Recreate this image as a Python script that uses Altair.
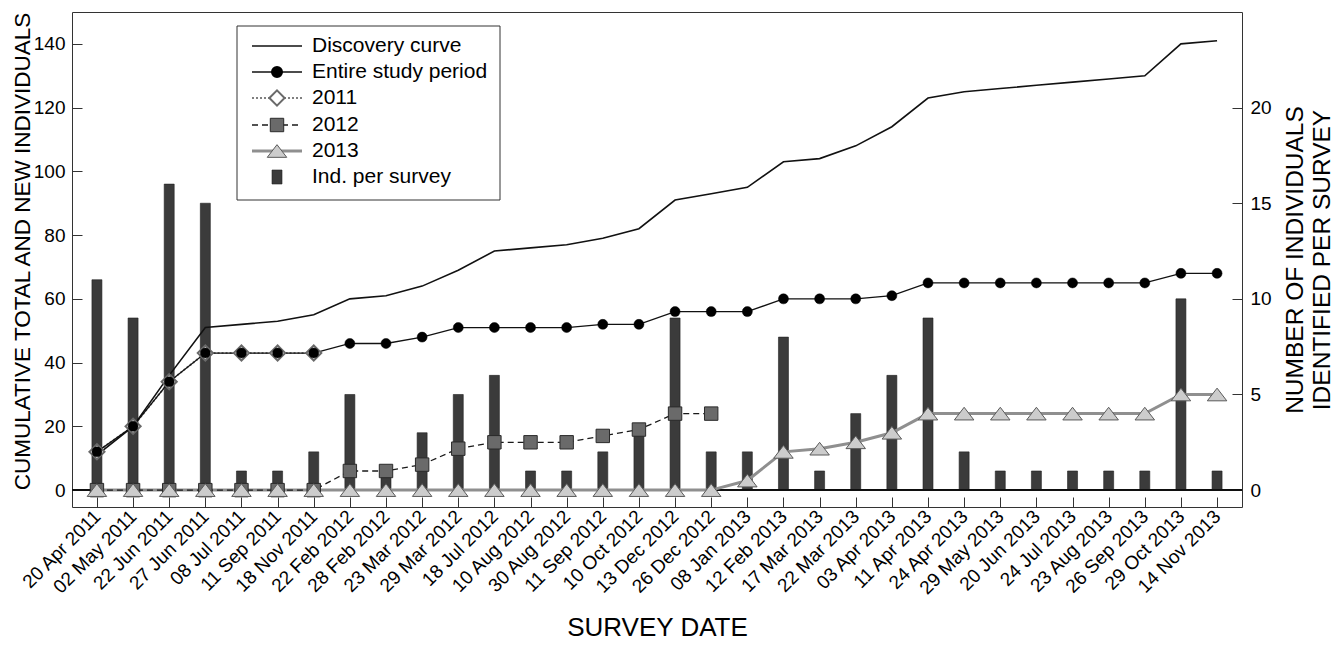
import altair as alt
import pandas as pd

FONT = "Liberation Sans"

dates = ["20 Apr 2011", "02 May 2011", "22 Jun 2011", "27 Jun 2011", "08 Jul 2011",
         "11 Sep 2011", "18 Nov 2011", "22 Feb 2012", "28 Feb 2012", "23 Mar 2012",
         "29 Mar 2012", "18 Jul 2012", "10 Aug 2012", "30 Aug 2012", "11 Sep 2012",
         "10 Oct 2012", "13 Dec 2012", "26 Dec 2012", "08 Jan 2013", "12 Feb 2013",
         "17 Mar 2013", "22 Mar 2013", "03 Apr 2013", "11 Apr 2013", "24 Apr 2013",
         "29 May 2013", "20 Jun 2013", "24 Jul 2013", "23 Aug 2013", "26 Sep 2013",
         "29 Oct 2013", "14 Nov 2013"]

ind_per_survey = [11, 9, 16, 15, 1, 1, 2, 5, 1, 3, 5, 6, 1, 1, 2, 3, 9, 2, 2, 8,
                  1, 4, 6, 9, 2, 1, 1, 1, 1, 1, 10, 1]

discovery = [11, 20, 36, 51, 52, 53, 55, 60, 61, 64, 69, 75, 76, 77, 79, 82, 91, 93,
             95, 103, 104, 108, 114, 123, 125, 126, 127, 128, 129, 130, 140, 141]

entire = [12, 20, 34, 43, 43, 43, 43, 46, 46, 48, 51, 51, 51, 51, 52, 52, 56, 56, 56,
          60, 60, 60, 61, 65, 65, 65, 65, 65, 65, 65, 68, 68]

year2011 = [12, 20, 34, 43, 43, 43, 43]

year2012 = [0, 0, 0, 0, 0, 0, 0, 6, 6, 8, 13, 15, 15, 15, 17, 19, 24, 24]

year2013 = [0, 0, 0, 0, 0, 0, 0, 0, 0, 0, 0, 0, 0, 0, 0, 0, 0, 0, 3, 12, 13, 15,
            18, 24, 24, 24, 24, 24, 24, 24, 30, 30]

legend_labels = ["Discovery curve", "Entire study period", "2011", "2012", "2013",
                 "Ind. per survey"]

left_ticks = [0, 20, 40, 60, 80, 100, 120, 140]
right_ticks = [0, 5, 10, 15, 20]

df = pd.DataFrame({"date": dates, "ind": ind_per_survey, "discovery": discovery,
                   "entire": entire})
d11 = pd.DataFrame({"date": dates[:len(year2011)], "v": year2011})
d12 = pd.DataFrame({"date": dates[:len(year2012)], "v": year2012})
d13 = pd.DataFrame({"date": dates[:len(year2013)], "v": year2013})

X_AXIS = alt.Axis(title="SURVEY DATE", labelAngle=315, labelAlign="right",
                  labelBaseline="middle", labelFontSize=19, titleFontSize=26,
                  tickSize=10, offset=-10, labelPadding=6, titlePadding=17,
                  domain=False)
xenc = alt.X("date:N", sort=dates, scale=alt.Scale(type="point", padding=0.69),
             axis=X_AXIS)

LEFT = alt.Scale(domain=[-5.3, 150], nice=False, zero=False)
RIGHT = alt.Scale(domain=[-0.883, 25], nice=False, zero=False)

L_AXIS = alt.Axis(title="CUMULATIVE TOTAL AND NEW INDIVIDUALS", values=left_ticks,
                  labelFontSize=19, titleFontSize=22.5, tickSize=10, offset=-10,
                  labelPadding=7, titlePadding=-1, titleY=239, domain=False, grid=False)
R_AXIS = alt.Axis(title=["NUMBER OF INDIVIDUALS", "IDENTIFIED PER SURVEY"],
                  orient="right", values=right_ticks, labelFontSize=19,
                  titleFontSize=24.5, titleAngle=270, tickSize=10, offset=-10,
                  labelPadding=8, titlePadding=10, domain=False, grid=False)

bars = alt.Chart(df).mark_bar(size=10, color="#3b3b3b", stroke="#222222",
                              strokeWidth=0.6).encode(
    x=xenc,
    y=alt.Y("ind:Q", scale=RIGHT, axis=R_AXIS),
    y2=alt.datum(0),
)


def yl(field):
    return alt.Y(field, scale=LEFT, axis=L_AXIS)


zero_rule = alt.Chart(df).mark_rule(color="#111111", strokeWidth=1).encode(
    y=alt.Y(datum=0, scale=LEFT, axis=L_AXIS))

line13 = alt.Chart(d13).mark_line(color="#8f8f8f", strokeWidth=3).encode(x=xenc, y=yl("v:Q"))
line12 = alt.Chart(d12).mark_line(color="#1a1a1a", strokeWidth=1.3,
                                  strokeDash=[6, 4]).encode(x=xenc, y=yl("v:Q"))
line11 = alt.Chart(d11).mark_line(color="#808080", strokeWidth=2,
                                  strokeDash=[2, 2]).encode(x=xenc, y=yl("v:Q"))
line_ent = alt.Chart(df).mark_line(color="#111111", strokeWidth=1.3).encode(
    x=xenc, y=yl("entire:Q"))
line_disc = alt.Chart(df).mark_line(color="#111111", strokeWidth=1.6).encode(
    x=xenc, y=yl("discovery:Q"))

TRI = "M-1,0.65L1,0.65L0,-0.65Z"

pts12 = alt.Chart(d12).mark_point(shape="square", filled=True, fill="#6a6a6a",
                                  stroke="#2a2a2a", strokeWidth=1, size=180,
                                  opacity=1).encode(x=xenc, y=yl("v:Q"))
pts13 = alt.Chart(d13).mark_point(shape=TRI, filled=True, fill="#cccccc",
                                  stroke="#5a5a5a", strokeWidth=1, size=380,
                                  opacity=1).encode(x=xenc, y=yl("v:Q"))
pts11 = alt.Chart(d11).mark_point(shape="diamond", filled=True, fill="white",
                                  stroke="#6a6a6a", strokeWidth=2, size=230,
                                  opacity=1).encode(x=xenc, y=yl("v:Q"))
pts_ent = alt.Chart(df).mark_point(shape="circle", filled=True, fill="black",
                                   stroke="black", strokeWidth=0.5, size=100,
                                   opacity=1).encode(x=xenc, y=yl("entire:Q"))

lines = alt.layer(zero_rule, line13, line12, line11, line_ent, line_disc,
                  pts12, pts13, pts11, pts_ent)

# ---------------- legend (drawn in pixel space) ----------------
one = alt.Data(values=[{"a": 1}])
LX0, LX1, LXS, LXT = 180, 230, 205, 240
rows = [34, 60, 86, 113, 139, 165]


def lrule(y, color, width, dash=None):
    kw = dict(color=color, strokeWidth=width)
    if dash:
        kw["strokeDash"] = dash
    return alt.Chart(one).mark_rule(**kw).encode(
        x=alt.value(LX0), x2=alt.value(LX1), y=alt.value(y))


def lpoint(y, **kw):
    return alt.Chart(one).mark_point(opacity=1, filled=True, **kw).encode(
        x=alt.value(LXS), y=alt.value(y))


def ltext(y, label):
    return alt.Chart(one).mark_text(text=label, align="left", baseline="middle",
                                    fontSize=21, font=FONT, color="black").encode(
        x=alt.value(LXT), y=alt.value(y))


legend_box = alt.Chart(one).mark_rect(fill="white", stroke="#333333",
                                      strokeWidth=1).encode(
    x=alt.value(165), x2=alt.value(428), y=alt.value(14), y2=alt.value(188))

legend_layers = [
    legend_box,
    lrule(rows[0], "#111111", 1.6),
    lrule(rows[1], "#111111", 1.3),
    lpoint(rows[1], shape="circle", fill="black", stroke="black", size=100),
    lrule(rows[2], "#808080", 2, [2, 2]),
    lpoint(rows[2], shape="diamond", fill="white", stroke="#6a6a6a", strokeWidth=2, size=230),
    lrule(rows[3], "#1a1a1a", 1.3, [6, 4]),
    lpoint(rows[3], shape="square", fill="#6a6a6a", stroke="#2a2a2a", strokeWidth=1, size=180),
    lrule(rows[4], "#8f8f8f", 3),
    lpoint(rows[4], shape=TRI, fill="#cccccc", stroke="#5a5a5a", strokeWidth=1, size=380),
    alt.Chart(one).mark_rect(fill="#3b3b3b", stroke="#222222", strokeWidth=0.6).encode(
        x=alt.value(LXS - 5), x2=alt.value(LXS + 5),
        y=alt.value(rows[5] - 7), y2=alt.value(rows[5] + 7)),
]
legend_layers += [ltext(r, lab) for r, lab in zip(rows, legend_labels)]

chart = alt.layer(bars, lines, *legend_layers).resolve_scale(
    y="independent"
).properties(
    width=1170, height=495,
    padding={"left": 64, "top": 4, "right": 93, "bottom": 135},
    autosize=alt.AutoSizeParams(type="none"),
    background="white",
).configure_view(
    stroke="#333333", strokeWidth=1
).configure_axis(
    labelFont=FONT, titleFont=FONT, labelColor="black", titleColor="black",
    tickColor="#333333", titleFontWeight="normal", grid=False,
)

chart.save("out.html", embed_options={"renderer": "svg", "actions": False})
